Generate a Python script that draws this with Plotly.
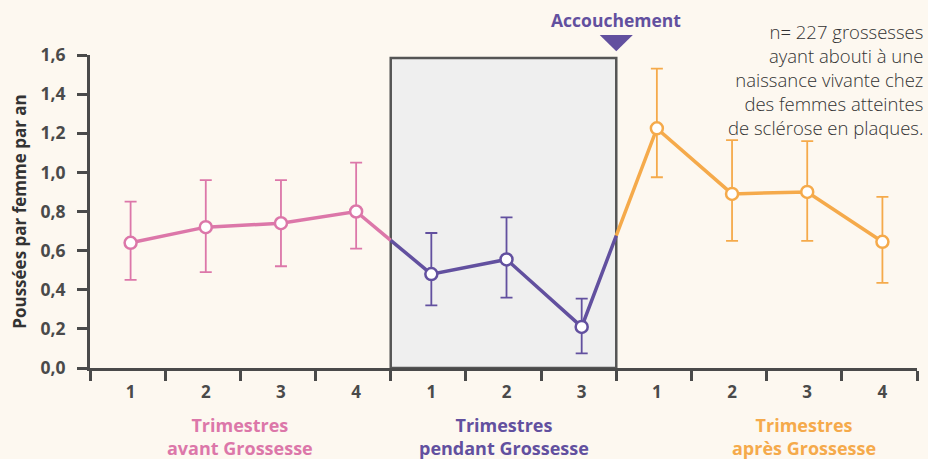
import plotly.graph_objects as go

# ---- data ----
before_vals = [0.64, 0.72, 0.74, 0.80]
before_hi = [0.85, 0.96, 0.96, 1.05]
before_lo = [0.45, 0.49, 0.52, 0.61]

during_vals = [0.48, 0.555, 0.21]
during_hi = [0.69, 0.77, 0.355]
during_lo = [0.32, 0.36, 0.075]

after_vals = [1.225, 0.89, 0.90, 0.645]
after_hi = [1.53, 1.165, 1.16, 0.875]
after_lo = [0.975, 0.65, 0.65, 0.435]

tick_labels = ["1", "2", "3", "4", "1", "2", "3", "1", "2", "3", "4"]
y_ticks = [0.0, 0.2, 0.4, 0.6, 0.8, 1.0, 1.2, 1.4, 1.6]
y_ticklabels = ["0,0", "0,2", "0,4", "0,6", "0,8", "1,0", "1,2", "1,4", "1,6"]

note_lines = ["n= 227 grossesses", "ayant abouti à une", "naissance vivante chez",
              "des femmes atteintes", "de sclérose en plaques."]

PINK = "#dc77a9"
PURPLE = "#62509f"
ORANGE = "#f5aa4b"
DARK = "#4a4a4a"
BG = "#fdf8f0"
FONT = "Open Sans"

off = 0.04
xb = [i + 0.5 + off for i in range(4)]
xd = [i + 4.5 + off for i in range(3)]
xa = [i + 7.5 + off for i in range(4)]


def interp(x0, y0, x1, y1, x):
    return y0 + (y1 - y0) * (x - x0) / (x1 - x0)

j1 = interp(xb[-1], before_vals[-1], xd[0], during_vals[0], 4)
j2 = interp(xd[-1], during_vals[-1], xa[0], after_vals[0], 7)

fig = go.Figure()

# Gray box for pregnancy
fig.add_shape(type="rect", x0=4, x1=7, y0=0, y1=1.585, xref="x", yref="y",
              fillcolor="#efefef", line=dict(color="#555555", width=2.5), layer="below")

# Accouchement triangle
fig.add_shape(type="path", xref="x", yref="paper",
              path="M 6.78,1.064 L 7.22,1.064 L 7.0,1.012 Z",
              fillcolor=PURPLE, line=dict(width=0))


def add_series(xs, vals, hi, lo, color, line_x, line_y):
    fig.add_trace(go.Scatter(x=line_x, y=line_y, mode="lines",
                             line=dict(color=color, width=3.5), hoverinfo="skip",
                             showlegend=False, cliponaxis=False))
    fig.add_trace(go.Scatter(
        x=xs, y=vals, mode="markers",
        marker=dict(size=12, color="white", line=dict(color=color, width=2.5)),
        error_y=dict(type="data", symmetric=False,
                     array=[h - v for h, v in zip(hi, vals)],
                     arrayminus=[v - l for v, l in zip(vals, lo)],
                     color=color, thickness=1.8, width=6),
        showlegend=False, cliponaxis=False))

add_series(xb, before_vals, before_hi, before_lo, PINK,
           xb + [4], before_vals + [j1])
add_series(xd, during_vals, during_hi, during_lo, PURPLE,
           [4] + xd + [7], [j1] + during_vals + [j2])
add_series(xa, after_vals, after_hi, after_lo, ORANGE,
           [7] + xa, [j2] + after_vals)

fig.add_annotation(x=7, y=1.112, xref="x", yref="paper", text="Accouchement",
                   showarrow=False, yanchor="middle", xanchor="center",
                   font=dict(family=FONT, size=17.5, color=PURPLE, weight="bold"))

# Note text
fig.add_annotation(x=1.0, y=(368 - 17) / 313, xref="paper", yref="paper", xanchor="right",
                   yanchor="top", xshift=8, align="right", showarrow=False,
                   text="<br>".join(note_lines),
                   font=dict(family=FONT, size=18.5, color="#333333", weight=300))

# Group labels
for cx, txt, col in [(2, "Trimestres<br>avant Grossesse", PINK),
                     (5.5, "Trimestres<br>pendant Grossesse", PURPLE),
                     (9.5, "Trimestres<br>après Grossesse", ORANGE)]:
    fig.add_annotation(x=cx, y=0, xref="x", yref="paper", yanchor="top", xanchor="center",
                       yshift=-43, showarrow=False, text=txt, align="center",
                       font=dict(family=FONT, size=18, color=col, weight="bold"))

fig.update_layout(
    width=928, height=459,
    margin=dict(l=90, r=11, t=55, b=91),
    paper_bgcolor=BG, plot_bgcolor=BG,
    font=dict(family=FONT, color="#333333"),
    showlegend=False,
)
fig.update_xaxes(
    range=[0, 11], showgrid=False, zeroline=False,
    showline=True, linecolor=DARK, linewidth=3,
    tickmode="array", tickvals=[i + 0.5 + off for i in range(11)], ticktext=tick_labels,
    ticks="", ticklabelstandoff=7,
    tickfont=dict(family=FONT, size=17, color=DARK, weight="bold"),
    minor=dict(tickmode="array", tickvals=list(range(12)), ticks="outside",
               ticklen=10, tickwidth=2.5, tickcolor=DARK),
)
fig.update_yaxes(
    range=[0, 1.6], showgrid=False, zeroline=False,
    showline=True, linecolor=DARK, linewidth=3,
    tickmode="array", tickvals=y_ticks, ticktext=y_ticklabels,
    ticks="outside", ticklen=10, tickwidth=2.5, tickcolor=DARK, ticklabelstandoff=8,
    tickfont=dict(family=FONT, size=17.5, color=DARK, weight="bold"),
    title=dict(text="Poussées par femme par an", standoff=10,
               font=dict(family=FONT, size=17, color="#333333", weight="bold")),
)

fig.write_html("out.html", post_script="document.body.style.margin='0';",
               config={"displayModeBar": False})
